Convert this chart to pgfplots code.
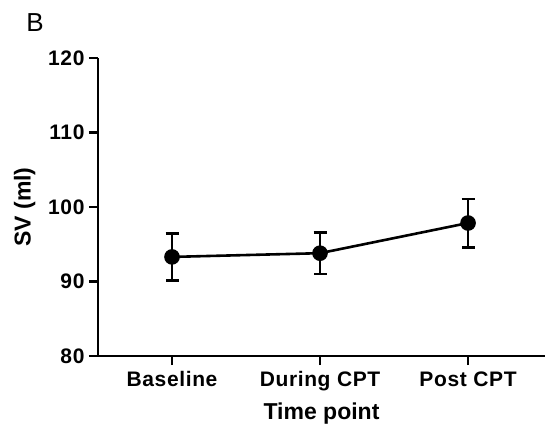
\documentclass[border=0pt]{standalone}
\usepackage{fontspec}
\setmainfont{Liberation Sans}
\usepackage{pgfplots}
\pgfplotsset{compat=1.18}
\begin{document}
\begin{tikzpicture}
\useasboundingbox (-98bp,-82bp) rectangle (450bp,356bp);
\begin{axis}[
  at={(0,0)}, anchor=south west,
  scale only axis, width=447bp, height=298bp,
  xmin=-0.5, xmax=2.52, ymin=80, ymax=120,
  axis x line=bottom, axis y line=left,
  axis line style={-, line width=2.6bp},
  xtick={0,1,2}, xticklabels={Baseline,During CPT,Post CPT},
  ytick={80,90,100,110,120},
  tick style={line width=2.6bp, black},
  tick align=outside, major tick length=9bp,
  /pgf/number format/assume math mode=true,
  ticklabel style={font=\fontsize{21bp}{23bp}\selectfont\bfseries\addfontfeatures{LetterSpace=3}},
  xticklabel style={yshift=-3bp},
  yticklabel style={xshift=-1bp},
  xlabel={Time point}, ylabel={SV (ml)},
  label style={font=\fontsize{23bp}{25bp}\selectfont\bfseries},
  xlabel style={yshift=-5bp},
  ylabel style={yshift=6bp},
  clip=false,
]
\addplot+[black, line width=2.6bp, mark=*, mark size=6.5bp, mark options={fill=black},
  error bars/.cd, y dir=both, y explicit,
  error bar style={line width=2.6bp, black},
  error mark options={rotate=90, mark size=6.5bp, line width=2.6bp, black}]
  coordinates {
  (0,93.3) +- (0,3.15)
  (1,93.8) +- (0,2.8)
  (2,97.85) +- (0,3.25)
};
\end{axis}
\node[font=\fontsize{26bp}{28bp}\selectfont] at (-63bp,333bp) {B};
\end{tikzpicture}
\end{document}
